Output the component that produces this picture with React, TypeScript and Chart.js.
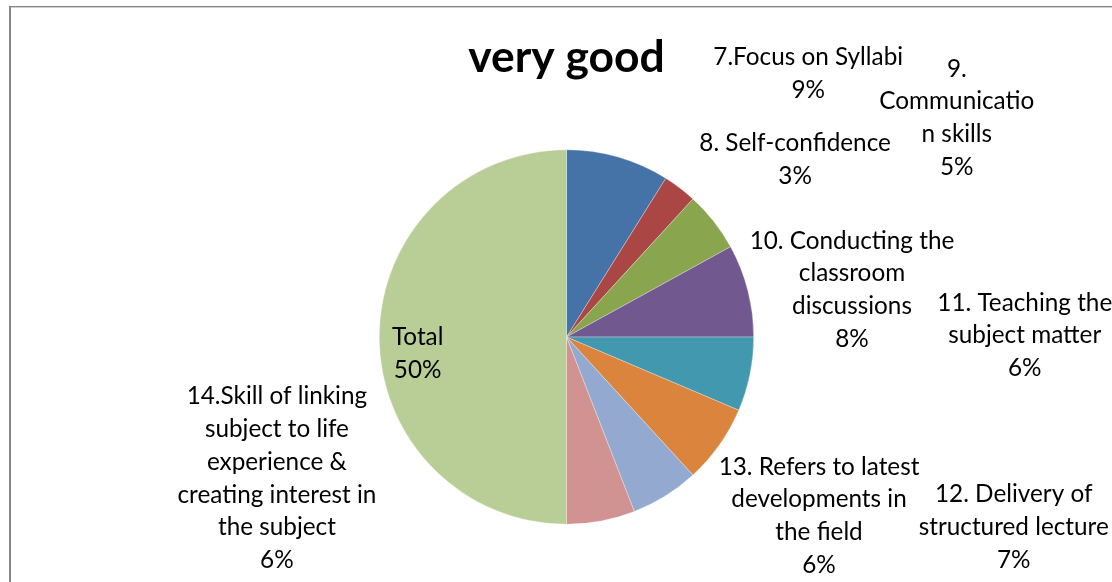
import React, { useEffect, useRef } from "react";
import { Chart, registerables } from "chart.js";

Chart.register(...registerables);

const chartTitle = "very good";

const categories = [
  "7.Focus on Syllabi",
  "8. Self-confidence",
  "9. Communication skills",
  "10. Conducting the classroom discussions",
  "11. Teaching the subject matter",
  "12. Delivery of structured lecture",
  "13. Refers to latest developments in the field",
  "14.Skill of linking subject to life experience & creating interest in the subject",
  "Total",
];

// label text as wrapped in the reference
const labelLines = [
  ["7.Focus on Syllabi"],
  ["8. Self-confidence"],
  ["9.", "Communicatio", "n skills"],
  ["10. Conducting the", "classroom", "discussions"],
  ["11. Teaching the", "subject matter"],
  ["12. Delivery of", "structured lecture"],
  ["13. Refers to latest", "developments in", "the field"],
  ["14.Skill of linking", "subject to life", "experience &", "creating interest in", "the subject"],
  ["Total"],
];

const values = [8.9, 2.9, 5.2, 8.0, 6.4, 6.8, 5.9, 5.9, 50.0];

const colors = [
  "#4572A7",
  "#AA4643",
  "#89A54E",
  "#71588F",
  "#4198AF",
  "#DB843D",
  "#93A9CF",
  "#D19392",
  "#B9CD96",
];

// label block centres relative to pie centre, in units of the pie radius
const labelOffsets = [
  [1.291, -1.405],
  [1.221, -0.949],
  [2.085, -1.171],
  [1.525, -0.251],
  [2.448, -0.008],
  [2.389, 1.016],
  [1.349, 0.955],
  [-1.547, 0.755],
  [-0.795, 0.088],
];

const FONT = "Lato, 'Open Sans', sans-serif";
const LABEL_SIZE = 24.3;
const LINE_H = 32.7;
const TITLE_SIZE = 44.4;

const framePlugin = {
  id: "frame",
  beforeDraw(chart: any) {
    const { ctx, width, height } = chart;
    ctx.save();
    ctx.fillStyle = "#ffffff";
    ctx.fillRect(0, 0, width, height);
    ctx.fillStyle = "#878787";
    ctx.fillRect(9, 6, width, 1.4);
    ctx.fillRect(9, 6, 2, height);
    ctx.restore();
  },
};

const labelPlugin = {
  id: "pieLabels",
  afterDraw(chart: any) {
    const { ctx } = chart;
    const meta = chart.getDatasetMeta(0);
    const data = chart.data.datasets[0].data as number[];
    const total = data.reduce((a: number, b: number) => a + b, 0);
    const first = meta.data[0] as any;
    const cx = first.x;
    const cy = first.y;
    const r = first.outerRadius;

    ctx.save();
    // title
    ctx.fillStyle = "#000";
    ctx.font = `bold ${TITLE_SIZE}px ${FONT}`;
    ctx.textAlign = "center";
    ctx.textBaseline = "alphabetic";
    ctx.fillText(chartTitle, cx, cy - r - 77.5);

    ctx.font = `${LABEL_SIZE}px ${FONT}`;
    ctx.textBaseline = "middle";
    meta.data.forEach((_arc: any, i: number) => {
      const pct = Math.round((data[i] / total) * 100) + "%";
      const lines = [...labelLines[i], pct];
      const [ox, oy] = labelOffsets[i];
      const x = cx + ox * r;
      const y = cy + oy * r;
      const top = y - ((lines.length - 1) * LINE_H) / 2;
      lines.forEach((t, k) => ctx.fillText(t, x, top + k * LINE_H));
    });
    ctx.restore();
  },
};

export default function App() {
  const ref = useRef<HTMLCanvasElement>(null);
  useEffect(() => {
    if (!ref.current) return;
    const chart = new Chart(ref.current, {
      type: "pie",
      data: {
        labels: categories,
        datasets: [
          {
            data: values,
            backgroundColor: colors,
            borderColor: "rgba(255,255,255,0.5)",
            borderWidth: 0.6,
          },
        ],
      },
      options: {
        animation: false,
        responsive: true,
        maintainAspectRatio: false,
        layout: { padding: { top: 149.5, bottom: 57.5, left: 378.5, right: 357.5 } },
        plugins: {
          legend: { display: false },
          title: { display: false },
          tooltip: { enabled: false },
        },
      },
      plugins: [framePlugin, labelPlugin],
    });
    return () => chart.destroy();
  }, []);
  return (
    <div style={{ position: "absolute", left: 0, top: 0, width: 1112, height: 582 }}>
      <canvas ref={ref} />
    </div>
  );
}
